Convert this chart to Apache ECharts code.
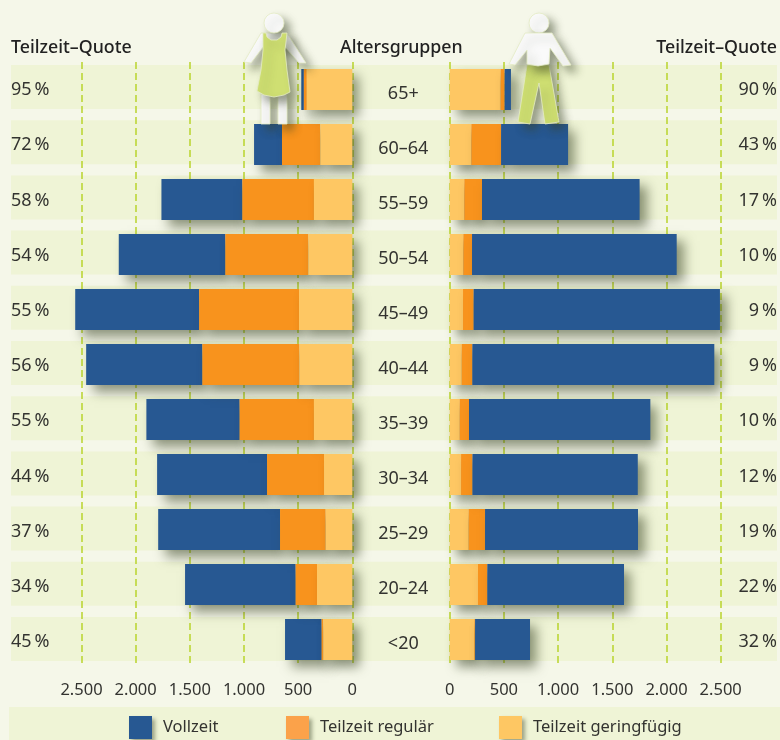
<!DOCTYPE html>
<html><head><meta charset="utf-8">
<style>html,body{margin:0;padding:0;background:#f5f7e9}#c{width:780px;height:740px}</style>
<script src="https://cdn.jsdelivr.net/npm/echarts@6/dist/echarts.min.js"></script>
</head><body><div id="c"></div>
<script>
const ageGroups = ['65+','60–64','55–59','50–54','45–49','40–44','35–39','30–34','25–29','20–24','<20'];
const quoteWomen = ['95\u2009%','72\u2009%','58\u2009%','54\u2009%','55\u2009%','56\u2009%','55\u2009%','44\u2009%','37\u2009%','34\u2009%','45\u2009%'];
const quoteMen = ['90\u2009%','43\u2009%','17\u2009%','10\u2009%','9\u2009%','9\u2009%','10\u2009%','12\u2009%','19\u2009%','22\u2009%','32\u2009%'];
const womenVollzeit = [24,258,747,984,1144,1073,861,1015,1125,1021,338];
const womenRegulaer = [27,354,661,766,922,895,686,526,421,197,15];
const womenGering = [420,295,354,406,492,489,354,261,246,326,268];
const menVollzeit = [58,618,1454,1888,2272,2232,1673,1525,1411,1261,507];
const menRegulaer = [37,274,163,80,98,98,86,105,151,86,6];
const menGering = [470,200,135,126,123,111,92,105,175,261,228];
const rowBands = [1,1,1,1,1,1,1,1,1,1,1];
const NAMES = ['Vollzeit','Teilzeit regulär','Teilzeit geringfügig'];

const FONT = '"Noto Sans", sans-serif';
const C = {blue:'#275892', orange:'#f8931d', yellow:'#fec763', legOrange:'#fba24a', bg:'#f5f7e9', band:'#eff4d6', grid:'#b9d32c', text:'#333330'};
const shadow = {shadowColor:'rgba(55,65,35,0.55)', shadowBlur:11, shadowOffsetX:7, shadowOffsetY:7};
const legShadow = {shadowColor:'rgba(55,65,35,0.45)', shadowBlur:4, shadowOffsetX:3, shadowOffsetY:3};

function valueAxis(idx, inverse){
  return {type:'value', gridIndex:idx, inverse, min:0, max:2500, interval:500,
    axisLine:{show:false}, axisTick:{show:false},
    axisLabel:{margin:15, fontFamily:FONT, fontSize:16.5, color:C.text,
      formatter:v=>v>=1000?Math.floor(v/1000)+'.'+String(v%1000).padStart(3,'0'):String(v)},
    splitLine:{show:true, lineStyle:{color:C.grid, width:1.5, type:[7,4]}}};
}
function bar(name, x, y, data, color, z){
  return {type:'bar', name, xAxisIndex:x, yAxisIndex:y, stack:'s'+x, data, barWidth:41, z, clip:false,
    itemStyle:Object.assign({color}, shadow), emphasis:{disabled:true}, silent:true};
}
function pts(a){return {points:a};}
const figStyle = (fill)=>({fill, stroke:'#e4ecc4', lineWidth:0.8, shadowColor:'rgba(55,65,35,0.5)', shadowBlur:9, shadowOffsetX:6, shadowOffsetY:6});
const figures = [
  // woman
  {type:'polygon', z:100, shape:pts([[261,33],[244,62],[251,63],[263,47],[285,47],[299,63],[306,63],[287,33]]), style:figStyle('#fafafa')},
  {type:'polygon', z:100, shape:pts([[261,94],[270,94],[270,124],[261,124]]), style:figStyle('#fafafa')},
  {type:'polygon', z:100, shape:pts([[278,94],[287,94],[287,124],[278,124]]), style:figStyle('#fafafa')},
  {type:'circle', z:100, shape:{cx:274,cy:23,r:10}, style:figStyle('#fafafa')},
  {type:'polygon', z:101, shape:pts([[263,33],[266,33],[267,37],[271,40],[277,40],[281,37],[282,33],[287,33],[285,50],[287,70],[290,92],[284,95],[274,97],[264,95],[257,91],[261,70],[263,50]]), style:figStyle('#cfdf72')},
  // man
  {type:'circle', z:100, shape:{cx:539,cy:23,r:10}, style:figStyle('#fafafa')},
  {type:'polygon', z:100, shape:pts([[527,65],[518,122],[530,124],[539,83],[545,124],[559,122],[549,65]]), style:figStyle('#cfdf72')},
  {type:'polygon', z:101, shape:pts([[525,33],[509,64],[515,65],[527,50],[527,64],[538,66],[549,64],[550,48],[563,66],[571,65],[552,33]]), style:figStyle('#fafafa')}
];

const titleStyle = {fontFamily:FONT, fontSize:17.8, fontWeight:500, color:'#222'};
const legText = {fontFamily:FONT, fontSize:16.5, color:C.text, padding:[6,0,0,6]};
function leg(left, name, color){
  return {left, top:716, padding:0, icon:'rect', itemWidth:23, itemHeight:23, itemGap:0, selectedMode:false, textStyle:legText,
    data:[{name, itemStyle:Object.assign({color}, legShadow)}]};
}

const chart = echarts.init(document.getElementById('c'), null, {renderer:'canvas'});
chart.setOption({
  animation:false,
  backgroundColor:C.bg,
  title:[
    {text:'Teilzeit–Quote', left:11, top:39, padding:0, textStyle:titleStyle},
    {text:'Altersgruppen', left:340, top:39, padding:0, textStyle:titleStyle},
    {text:'Teilzeit–Quote', right:3, top:39, padding:0, textStyle:titleStyle}
  ],
  grid:[
    {left:81.5, width:270.8, top:62, height:605},
    {left:449.7, width:271, top:62, height:605},
    {left:11, right:2, top:59.4, height:607.2}
  ],
  xAxis:[ valueAxis(0,true), valueAxis(1,false),
    {type:'value', gridIndex:2, min:0, max:1, show:false} ],
  yAxis:[
    {type:'category', gridIndex:0, inverse:true, data:ageGroups, position:'right',
      axisLine:{show:false}, axisTick:{show:false},
      axisLabel:{margin:51, align:'center', verticalAlign:'top', lineHeight:8, fontFamily:FONT, fontSize:18, color:C.text, interval:0}},
    {type:'category', gridIndex:1, inverse:true, data:ageGroups, show:false},
    {type:'category', gridIndex:2, inverse:true, data:quoteWomen, position:'left',
      axisLine:{show:false}, axisTick:{show:false},
      axisLabel:{inside:true, margin:0, align:'left', verticalAlign:'top', lineHeight:6, fontFamily:FONT, fontSize:18, color:C.text, interval:0}},
    {type:'category', gridIndex:2, inverse:true, data:quoteMen, position:'right',
      axisLine:{show:false}, axisTick:{show:false},
      axisLabel:{inside:true, margin:0, align:'right', verticalAlign:'top', lineHeight:6, fontFamily:FONT, fontSize:18, color:C.text, interval:0}}
  ],
  legend:[ leg(129,NAMES[0],C.blue), leg(286,NAMES[1],C.legOrange), leg(499,NAMES[2],C.yellow) ],
  series:[
    {type:'bar', name:'bands', xAxisIndex:2, yAxisIndex:2, data:rowBands, barWidth:44, z:-1, silent:true, itemStyle:{color:C.band}},
    bar(NAMES[2],0,0,womenGering,C.yellow,5),
    bar(NAMES[1],0,0,womenRegulaer,C.orange,4),
    bar(NAMES[0],0,0,womenVollzeit,C.blue,3),
    bar(NAMES[2],1,1,menGering,C.yellow,3),
    bar(NAMES[1],1,1,menRegulaer,C.orange,4),
    bar(NAMES[0],1,1,menVollzeit,C.blue,5)
  ],
  graphic:{elements:[
    {type:'rect', z:-2, silent:true, shape:{x:9,y:707,width:771,height:33}, style:{fill:C.band}},
    ...figures
  ]}
});
</script></body></html>
